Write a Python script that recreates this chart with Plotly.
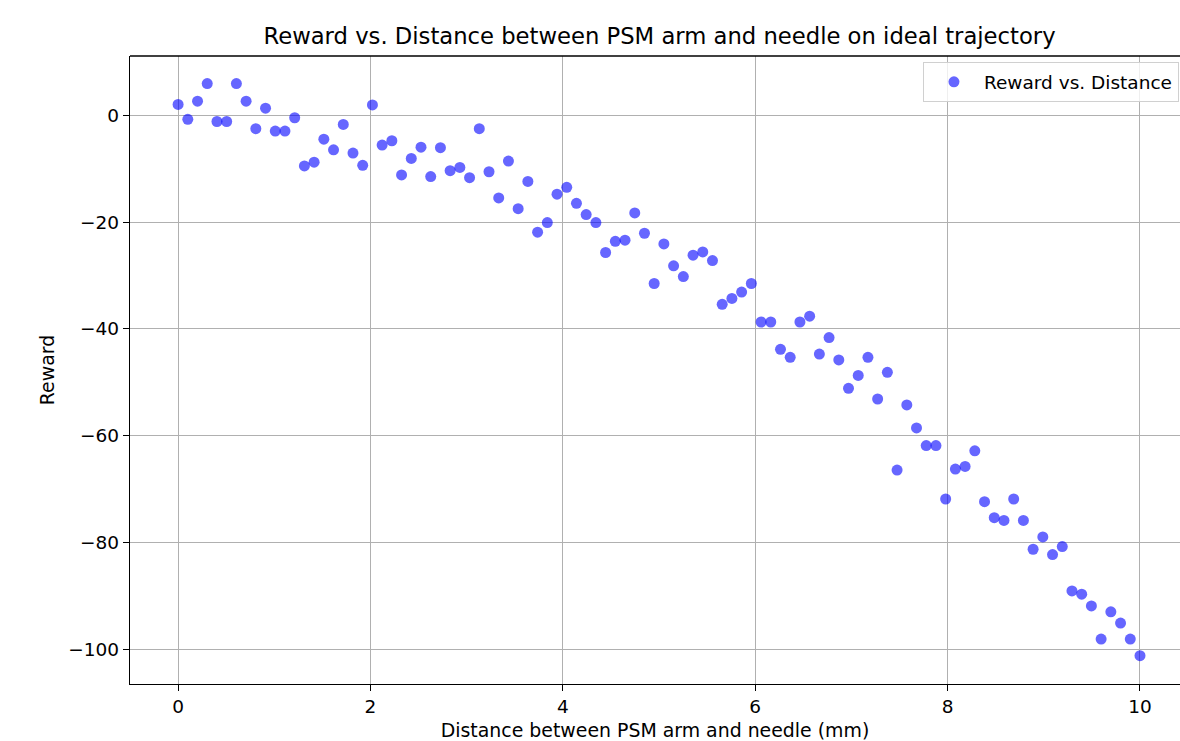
import numpy as np
import plotly.graph_objects as go

distance = np.linspace(0, 10, 100)
reward = [
    2.0, -0.8, 2.6, 5.9, -1.2, -1.2, 5.9, 2.6, -2.55, 1.3,
    -3.0, -3.0, -0.5, -9.5, -8.8, -4.5, -6.5, -1.75, -7.1, -9.4,
    1.9, -5.6, -4.8, -11.2, -8.1, -6.0, -11.5, -6.1, -10.4, -9.8,
    -11.7, -2.55, -10.6, -15.5, -8.6, -17.5, -12.4, -21.9, -20.1, -14.8,
    -13.5, -16.5, -18.6, -20.1, -25.7, -23.6, -23.4, -18.3, -22.1, -31.5,
    -24.1, -28.2, -30.2, -26.2, -25.6, -27.2, -35.4, -34.3, -33.1, -31.5,
    -38.7, -38.7, -43.8, -45.3, -38.7, -37.6, -44.7, -41.6, -45.8, -51.1,
    -48.7, -45.3, -53.1, -48.1, -66.4, -54.2, -58.5, -61.8, -61.8, -71.8,
    -66.2, -65.7, -62.8, -72.3, -75.3, -75.8, -71.8, -75.8, -81.2, -78.9,
    -82.2, -80.7, -89.0, -89.6, -91.8, -98.0, -92.9, -95.0, -98.0, -101.1,
]
x_ticks = [0, 2, 4, 6, 8, 10]
y_ticks = [0, -20, -40, -60, -80, -100]

title = "Reward vs. Distance between PSM arm and needle on ideal trajectory"
x_label = "Distance between PSM arm and needle (mm)"
y_label = "Reward"
series_name = "Reward vs. Distance"

font = "DejaVu Sans"

fig = go.Figure()
fig.add_trace(go.Scatter(
    x=distance, y=reward, mode="markers", name=series_name,
    marker=dict(color="blue", size=11, opacity=0.6, line=dict(width=0)),
    showlegend=True,
))

axis_common = dict(
    showgrid=True, gridcolor="#b0b0b0", gridwidth=1.2,
    showline=True, linecolor="black", linewidth=1.4,
    ticks="outside", ticklen=6, tickwidth=1.4, tickcolor="black",
    tickfont=dict(family=font, size=18.5, color="black"),
    zeroline=False, mirror=False,
)

fig.update_layout(
    width=1180, height=741,
    paper_bgcolor="white", plot_bgcolor="white",
    margin=dict(l=130, r=0, t=56, b=57, autoexpand=False),
    font=dict(family=font, color="black"),
    title=dict(text=title, font=dict(family=font, size=22.7, color="black"),
               x=659.5 / 1180, xref="container", xanchor="center",
               y=1 - 36 / 741, yref="container", yanchor="middle"),
    xaxis=dict(range=[-0.5, 10.416], tickvals=x_ticks,
               title=dict(text=x_label, font=dict(family=font, size=18.9), standoff=11),
               automargin=False, **axis_common),
    yaxis=dict(range=[-106.4, 11.05], tickvals=y_ticks,
               title=dict(text=y_label, font=dict(family=font, size=18.9), standoff=8),
               automargin=False, **axis_common),
    legend=dict(x=0.999, y=0.99, xanchor="right", yanchor="top",
                bgcolor="rgba(255,255,255,0.8)", bordercolor="#d0d0d0", borderwidth=1,
                itemwidth=50, tracegroupgap=0,
                font=dict(family=font, size=18.5, color="black")),
    showlegend=True,
)

# top spine
fig.add_shape(type="line", xref="paper", yref="paper", x0=0, x1=1, y0=1, y1=1,
              line=dict(color="black", width=1.4))

fig.write_html("out.html", config={"displayModeBar": False},
               post_script="document.body.style.margin='0';")
